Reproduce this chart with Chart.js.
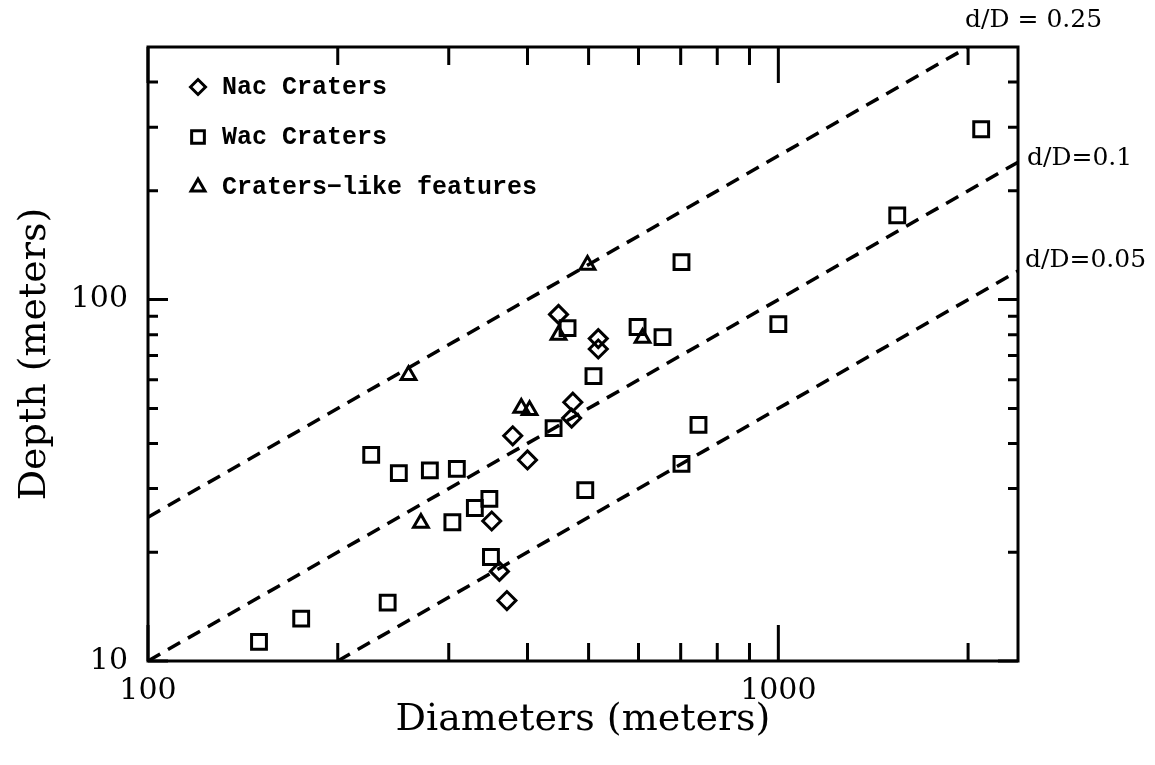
<!DOCTYPE html>
<html>
<head>
<meta charset="utf-8">
<title>Crater depth vs diameter</title>
<script src="https://cdn.jsdelivr.net/npm/chart.js@4.4.0/dist/chart.umd.min.js"></script>
<style>
  html, body { margin: 0; padding: 0; background: #fff; }
  #wrap { width: 1155px; height: 765px; position: relative; }
</style>
</head>
<body>
<div id="wrap"><canvas id="chart"></canvas></div>
<script>
// ---- values (diameter m, depth m) ----
const nacDiam  = [448, 518, 518, 472, 470, 379, 400, 351, 361, 371];
const nacDepth = [91, 78, 73, 52, 47, 42, 36, 24.4, 17.7, 14.7];

const wacDiam  = [150, 175, 240, 226, 250, 280, 309, 304, 330, 348, 350, 440, 463, 509, 494, 598, 655, 702, 702, 747, 1000, 1544, 2098];
const wacDepth = [11.3, 13.1, 14.5, 37.2, 33.1, 33.7, 34, 24.2, 26.5, 28.1, 19.4, 44.1, 83.4, 61.4, 29.7, 84, 78.7, 127, 35.1, 45, 85.5, 171, 296];

const likeDiam  = [259, 271, 391, 403, 448, 498, 609];
const likeDepth = [61.8, 24.1, 50.1, 49.4, 79.8, 124.6, 78.3];

// dashed d/D reference lines, end points
const ratio025Diam = [100, 2000];
const ratio025Depth = [25, 500];
const ratio010Diam = [100, 2400];
const ratio010Depth = [10, 240];
const ratio005Diam = [200, 2400];
const ratio005Depth = [10, 120];
const ratioLabels = ["d/D = 0.25", "d/D=0.1", "d/D=0.05"];

// axis ticks
const xMajorTicks = [100, 1000];
const xMinorTicks = [200, 300, 400, 500, 600, 700, 800, 900, 2000];
const yMajorTicks = [10, 100];
const yMinorTicks = [20, 30, 40, 50, 60, 70, 80, 90, 200, 300, 400];

const SERIF = "'DejaVu Serif', serif";
const MONO = "'Liberation Mono', 'DejaVu Sans Mono', monospace";

const zip = (xs, ys) => xs.map((v, i) => ({ x: v, y: ys[i] }));

function markerSet(label, xs, ys, style, radius) {
  return {
    type: "scatter",
    label,
    data: zip(xs, ys),
    pointStyle: style,
    pointRadius: radius,
    pointHoverRadius: radius,
    pointBorderWidth: 3,
    borderColor: "#000",
    backgroundColor: "rgba(0,0,0,0)"
  };
}

function dashLine(label, xs, ys) {
  return {
    type: "line",
    label,
    data: zip(xs, ys),
    borderColor: "#000",
    borderWidth: 3.5,
    borderDash: [14, 9],
    pointRadius: 0,
    fill: false,
    tension: 0
  };
}

// ==============================
// frame, inward ticks, legend, d/D labels
// ==============================
const decorations = {
  id: "decorations",
  afterDatasetsDraw(chart) {
    const { ctx, chartArea: a, scales: { x, y } } = chart;
    ctx.save();
    ctx.strokeStyle = "#000";
    ctx.lineWidth = 3;
    ctx.strokeRect(a.left, a.top, a.right - a.left, a.bottom - a.top);

    ctx.beginPath();
    const xTick = (v, len) => {
      const px = x.getPixelForValue(v);
      ctx.moveTo(px, a.bottom); ctx.lineTo(px, a.bottom - len);
      ctx.moveTo(px, a.top); ctx.lineTo(px, a.top + len);
    };
    const yTick = (v, len) => {
      const py = y.getPixelForValue(v);
      ctx.moveTo(a.left, py); ctx.lineTo(a.left + len, py);
      ctx.moveTo(a.right, py); ctx.lineTo(a.right - len, py);
    };
    xMajorTicks.forEach(v => xTick(v, 36));
    xMinorTicks.forEach(v => xTick(v, 18));
    yMajorTicks.forEach(v => yTick(v, 20));
    yMinorTicks.forEach(v => yTick(v, 10));
    ctx.stroke();

    // legend inside the plot
    const legendRadius = [7.5, 9, 8];
    ctx.font = "bold 25px " + MONO;
    ctx.fillStyle = "#000";
    ctx.textBaseline = "middle";
    ctx.textAlign = "left";
    for (let i = 0; i < 3; i++) {
      const ds = chart.data.datasets[i];
      const ly = a.top + 40 + i * 50;
      ctx.save();
      ctx.fillStyle = "rgba(0,0,0,0)";
      ctx.lineWidth = 3;
      Chart.helpers.drawPoint(ctx, { pointStyle: ds.pointStyle, radius: legendRadius[i], borderWidth: 3, rotation: 0 }, a.left + 50, ly);
      ctx.restore();
      ctx.fillText(ds.label, a.left + 74, ly + 1);
    }

    // d/D labels next to the line ends
    ctx.font = "25px " + SERIF;
    const ends = [
      [ratio025Diam[1], ratio025Depth[1], -3, -27],
      [ratio010Diam[1], ratio010Depth[1], 9, -4],
      [ratio005Diam[1], ratio005Depth[1], 7, -10]
    ];
    ends.forEach((e, i) => {
      ctx.fillText(ratioLabels[i], x.getPixelForValue(e[0]) + e[2], y.getPixelForValue(e[1]) + e[3]);
    });
    ctx.restore();
  }
};

new Chart(document.getElementById("chart"), {
  type: "scatter",
  data: {
    datasets: [
      markerSet("Nac Craters", nacDiam, nacDepth, "rectRot", 9),
      markerSet("Wac Craters", wacDiam, wacDepth, "rect", 10.5),
      markerSet("Craters\u2212like features", likeDiam, likeDepth, "triangle", 8.5),
      dashLine("d/D = 0.25", ratio025Diam, ratio025Depth),
      dashLine("d/D = 0.1", ratio010Diam, ratio010Depth),
      dashLine("d/D = 0.05", ratio005Diam, ratio005Depth)
    ]
  },
  options: {
    responsive: true,
    maintainAspectRatio: false,
    animation: false,
    layout: { padding: { top: 47, right: 137, left: 0, bottom: 0 } },
    plugins: { legend: { display: false }, tooltip: { enabled: false } },
    scales: {
      x: {
        type: "logarithmic",
        min: 100,
        max: 2400,
        grid: { display: false, drawTicks: false },
        border: { display: false },
        ticks: {
          autoSkip: false,
          maxRotation: 0,
          padding: 12,
          color: "#000",
          font: { family: SERIF, size: 30 },
          callback: v => (xMajorTicks.includes(v) ? String(v) : "")
        },
        title: {
          display: true,
          text: "Diameters (meters)",
          color: "#000",
          font: { family: SERIF, size: 38 },
          padding: { top: 0, bottom: 22 }
        },
        afterFit(scale) { scale.height = 104; }
      },
      y: {
        type: "logarithmic",
        min: 10,
        max: 500,
        grid: { display: false, drawTicks: false },
        border: { display: false },
        ticks: {
          autoSkip: false,
          padding: 20,
          color: "#000",
          font: { family: SERIF, size: 30 },
          callback: v => (yMajorTicks.includes(v) ? String(v) : "")
        },
        title: {
          display: true,
          text: "Depth (meters)",
          color: "#000",
          font: { family: SERIF, size: 38 },
          padding: { top: 12, bottom: 0 }
        },
        afterFit(scale) { scale.width = 148; }
      }
    }
  },
  plugins: [decorations]
});
</script>
</body>
</html>
